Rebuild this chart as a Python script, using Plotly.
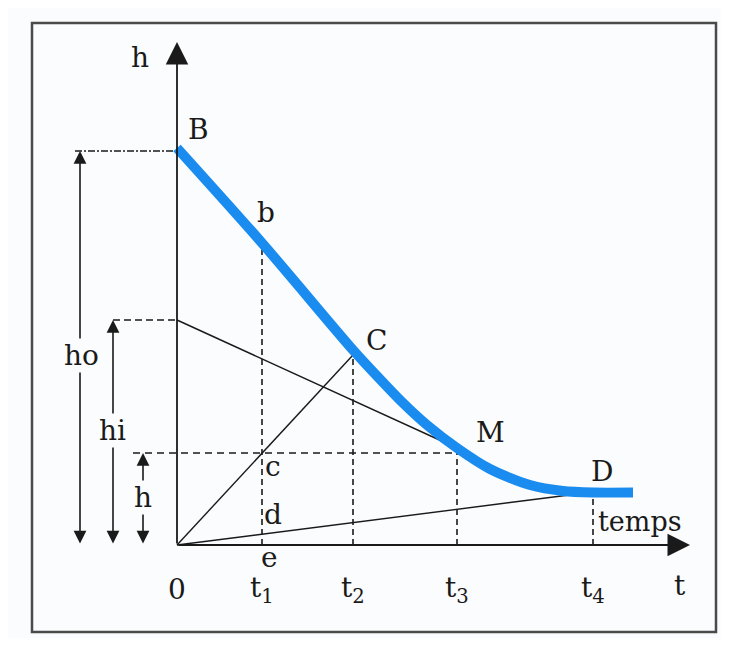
import plotly.graph_objects as go

# ── Diagram values (t in time units, h in height units) ───────────────────────
T_TICKS = [0.0, 8.5, 17.6, 28.0, 41.6]
T_LABELS = ["0", "t<sub>1</sub>", "t<sub>2</sub>", "t<sub>3</sub>", "t<sub>4</sub>"]

H_O = 39.4      # initial height
H_I = 22.5      # tangent intercept
H_M = 9.2       # height at M

# drainage curve B -> D
CURVE_T = [0.0, 8.5, 17.6, 20.0, 22.5, 25.0, 28.0, 31.3, 35.3, 38.6, 41.6, 45.6]
CURVE_H = [39.7, 30.2, 19.5, 16.9, 14.3, 12.0, 9.7, 7.6, 6.0, 5.4, 5.25, 5.25]

C_PT = (17.6, 19.0)
D_PT = (41.6, 5.3)
M_PT = (28.0, 9.7)

# dashed verticals: (t, top h)
VERTICALS = [(8.5, 30.1), (17.6, 19.0), (28.0, 9.2), (41.6, 5.3)]

POINT_LABELS = [
    ("B", 2.1, 41.6), ("b", 8.9, 33.3), ("C", 19.9, 20.5), ("M", 31.3, 11.3),
    ("D", 42.5, 7.4), ("c", 9.6, 7.9), ("d", 9.6, 3.1), ("e", 9.2, -1.2),
]

INK = "#1a1a1a"
BLUE = "#1a8cef"
BG = "#fafcfd"
FONT = "DejaVu Serif"

fig = go.Figure()


def seg(x, y, dash="solid", width=1.4, color=INK):
    fig.add_trace(go.Scatter(x=x, y=y, mode="lines", showlegend=False,
                             hoverinfo="skip",
                             line=dict(color=color, width=width, dash=dash)))


def arrow(x, y, ax, ay, both=False, width=1.4, size=1.4):
    fig.add_annotation(x=x, y=y, ax=ax, ay=ay, xref="x", yref="y",
                       axref="x", ayref="y", text="", showarrow=True,
                       arrowhead=2, arrowsize=size, arrowwidth=width,
                       arrowcolor=INK, arrowside="end+start" if both else "end",
                       startarrowhead=2, startarrowsize=size)


def label(text, x, y, size=28, bg=None, xanchor="center"):
    fig.add_annotation(x=x, y=y, xref="x", yref="y", text=text, showarrow=False,
                       xanchor=xanchor, yanchor="middle",
                       font=dict(family=FONT, size=size, color=INK),
                       bgcolor=bg, borderpad=0)


# frame
fig.add_shape(type="rect", x0=-14.5, x1=53.9, y0=-8.7, y1=52.2,
              line=dict(color="#4a4a4a", width=2.5), layer="below")

# helper lines
seg([0, C_PT[0]], [0, C_PT[1]])
seg([0, D_PT[0]], [0, D_PT[1]])
seg([0, M_PT[0]], [H_I, M_PT[1]])
for t, top in VERTICALS:
    seg([t, t], [0, top], dash="6px,4px", width=1.6)
seg([-4.4, 28.0], [H_M, H_M], dash="7px,5px", width=1.6)
seg([-6.4, 0], [H_I, H_I], dash="7px,4px", width=1.6)
seg([-10.2, 0], [H_O, H_O], dash="7px,2px,2px,2px", width=1.6)

# blue curve
fig.add_trace(go.Scatter(x=CURVE_T, y=CURVE_H, mode="lines", showlegend=False,
                         hoverinfo="skip",
                         line=dict(color=BLUE, width=10, shape="spline",
                                   smoothing=0.8)))

# axes
arrow(0, 50.3, 0, 0, width=1.8, size=2.5)
arrow(51.3, 0, 0, 0, width=1.8, size=2.5)

# dimension arrows
arrow(-9.7, H_O, -9.7, 0, both=True, width=1.6, size=1.6)
arrow(-6.4, H_I, -6.4, 0, both=True, width=1.6, size=1.6)
arrow(-3.4, H_M, -3.4, 0, both=True, width=1.6, size=1.6)
label("ho", -9.6, 19.0, bg=BG)
label("hi", -6.5, 11.5, bg=BG)
label("h", -3.4, 4.8, bg=BG)

# axis titles and ticks
label("h", -3.7, 48.8)
label("t", 50.3, -4.0)
label("temps", 42.0, 2.4, size=27, xanchor="left")
for t, txt in zip(T_TICKS, T_LABELS):
    label(txt, t, -4.4)

for txt, x, y in POINT_LABELS:
    label(txt, x, y)

# page body has an 8px margin, so the figure is shrunk by that much
fig.update_layout(
    width=713, height=630,
    margin=dict(l=0, r=0, t=0, b=0),
    paper_bgcolor=BG, plot_bgcolor=BG,
    xaxis=dict(range=[-16.9, 54.4], visible=False, fixedrange=True),
    yaxis=dict(range=[-9.3, 53.7], visible=False, fixedrange=True),
    showlegend=False,
)

fig.write_html("out.html")
